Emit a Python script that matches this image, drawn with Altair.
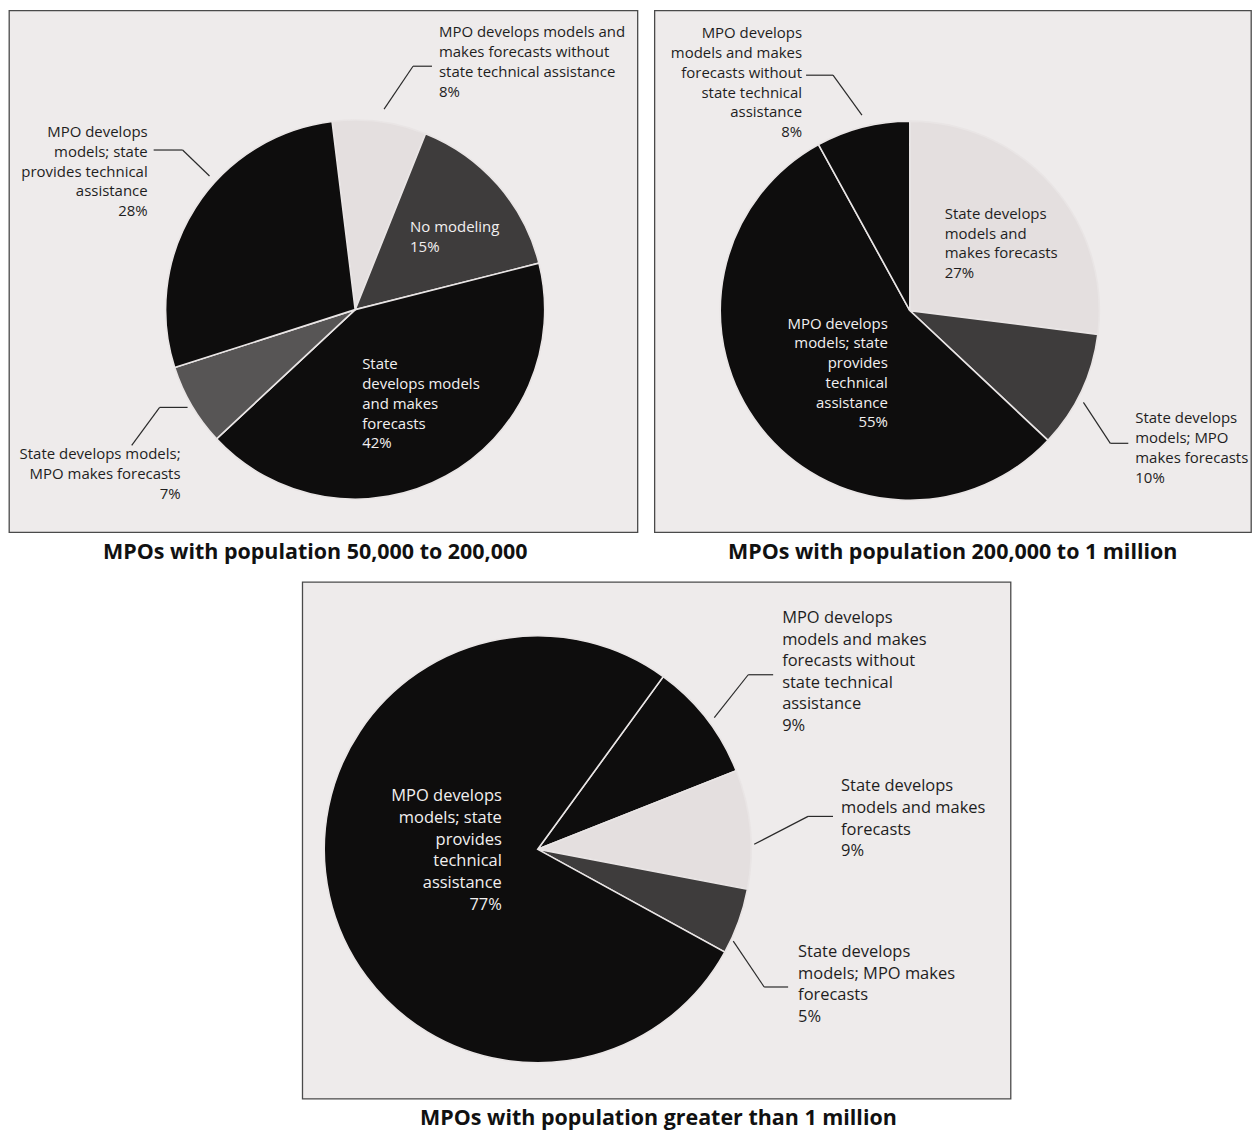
import altair as alt
import pandas as pd

# ---------------- data ----------------
p1_cats = [
    "MPO develops models and makes forecasts without state technical assistance",
    "No modeling",
    "State develops models and makes forecasts",
    "State develops models; MPO makes forecasts",
    "MPO develops models; state provides technical assistance",
]
p1_vals = [8, 15, 42, 7, 28]
p1_text = [
    "MPO develops models and\nmakes forecasts without\nstate technical assistance",
    "No modeling",
    "State\ndevelops models\nand makes\nforecasts",
    "State develops models;\nMPO makes forecasts",
    "MPO develops\nmodels; state\nprovides technical\nassistance",
]

p2_cats = [
    "State develops models and makes forecasts",
    "State develops models; MPO makes forecasts",
    "MPO develops models; state provides technical assistance",
    "MPO develops models and makes forecasts without state technical assistance",
]
p2_vals = [27, 10, 55, 8]
p2_text = [
    "State develops\nmodels and\nmakes forecasts",
    "State develops\nmodels; MPO\nmakes forecasts",
    "MPO develops\nmodels; state\nprovides\ntechnical\nassistance",
    "MPO develops\nmodels and makes\nforecasts without\nstate technical\nassistance",
]

p3_cats = [
    "MPO develops models and makes forecasts without state technical assistance",
    "State develops models and makes forecasts",
    "State develops models; MPO makes forecasts",
    "MPO develops models; state provides technical assistance",
]
p3_vals = [9, 9, 5, 77]
p3_text = [
    "MPO develops\nmodels and makes\nforecasts without\nstate technical\nassistance",
    "State develops\nmodels and makes\nforecasts",
    "State develops\nmodels; MPO makes\nforecasts",
    "MPO develops\nmodels; state\nprovides\ntechnical\nassistance",
]

titles = [
    "MPOs with population 50,000 to 200,000",
    "MPOs with population 200,000 to 1 million",
    "MPOs with population greater than 1 million",
]

# ---------------- styles ----------------
BLACK = "#0e0d0d"
LIGHT = "#e4dfdf"
DARK = "#3e3c3c"
MID = "#575555"
PANEL_BG = "#eeebeb"
LABEL_FONT = "Open Sans"
TITLE_FONT = "Open Sans"
DARK_TXT = "#1e1e1e"
WHITE_TXT = "#f2f0f0"

p1_colors = [LIGHT, DARK, BLACK, MID, BLACK]
p2_colors = [LIGHT, DARK, BLACK, BLACK]
p3_colors = [BLACK, LIGHT, DARK, BLACK]

TAU = 6.283185307179586


def pie_panel(cats, vals, texts, colors, start_deg, cx, cy, r, w, h,
              label_specs, leaders, title, fs, lh, toff, tdx):
    df = pd.DataFrame({"cat": cats, "value": vals, "idx": list(range(len(cats)))})
    a0 = start_deg / 360 * TAU
    arc = alt.Chart(df).mark_arc(radius=r, stroke="#e9e5e5", strokeWidth=1.6).encode(
        theta=alt.Theta("value:Q", stack=True, scale=alt.Scale(range=[a0, a0 + TAU])),
        color=alt.Color("cat:N", scale=alt.Scale(domain=cats, range=colors), legend=None),
        order=alt.Order("idx:Q"),
        x=alt.value(cx),
        y=alt.value(cy),
    )
    layers = [arc]
    for (i, lx, ly, align, col) in label_specs:
        ldf = pd.DataFrame({"label": [texts[i] + "\n" + f"{vals[i]}%"]})
        layers.append(
            alt.Chart(ldf).mark_text(
                align=align, baseline="top", lineBreak="\n", lineHeight=lh,
                font=LABEL_FONT, fontSize=fs, color=col,
            ).encode(text=alt.Text("label:N"), x=alt.value(lx), y=alt.value(ly))
        )
    one = pd.DataFrame({"k": [0]})
    for (x1, y1, x2, y2) in leaders:
        layers.append(
            alt.Chart(one).mark_rule(color="#2a2a2a", strokeWidth=1.2).encode(
                x=alt.value(x1), y=alt.value(y1), x2=alt.value(x2), y2=alt.value(y2)
            )
        )
    return alt.layer(*layers).properties(
        width=w, height=h,
        title=alt.TitleParams(
            title, orient="bottom", anchor="middle", fontSize=21.5, font=TITLE_FONT,
            fontWeight="bold", offset=toff, dx=tdx, color="#111111",
        ),
    )


p1 = pie_panel(
    p1_cats, p1_vals, p1_text, p1_colors, -7, 347, 300, 190, 630, 523,
    [
        (0, 431, 15, "left", DARK_TXT),
        (1, 402, 210, "left", WHITE_TXT),
        (2, 354, 348, "left", WHITE_TXT),
        (3, 172, 438, "right", DARK_TXT),
        (4, 139, 115, "right", DARK_TXT),
    ],
    [
        (376, 99, 405, 56), (405, 56, 424, 56),
        (145, 140, 174, 140), (174, 140, 201, 166),
        (123, 436, 151, 398), (151, 398, 179, 398),
    ],
    titles[0], 15, 19.8, 10, -8,
)

p2 = pie_panel(
    p2_cats, p2_vals, p2_text, p2_colors, 0, 256, 301, 190, 598, 523,
    [
        (0, 291, 197, "left", DARK_TXT),
        (1, 482, 402, "left", DARK_TXT),
        (2, 234, 307, "right", WHITE_TXT),
        (3, 148, 16, "right", DARK_TXT),
    ],
    [
        (152, 65, 179, 65), (179, 65, 208, 105),
        (430, 393, 457, 434), (457, 434, 475, 434),
    ],
    titles[1], 15, 19.8, 10, 0,
)

p3 = pie_panel(
    p3_cats, p3_vals, p3_text, p3_colors, 36, 236, 268, 214, 710, 518,
    [
        (0, 481, 28, "left", DARK_TXT),
        (1, 540, 197, "left", DARK_TXT),
        (2, 497, 363, "left", DARK_TXT),
        (3, 200, 207, "right", WHITE_TXT),
    ],
    [
        (413, 136, 447, 93), (447, 93, 472, 93),
        (453, 263, 507, 235), (507, 235, 532, 235),
        (432, 360, 463, 406), (463, 406, 487, 406),
    ],
    titles[2], 16.5, 21.7, 9, 2,
)

spacer = alt.Chart(pd.DataFrame({"k": [0]})).mark_text(text=" ", opacity=0).encode(
    x=alt.value(50), y=alt.value(50)
).properties(width=292, height=518,
             view=alt.ViewBackground(fill="transparent", stroke="transparent"))

row1 = alt.hconcat(p1, p2, spacing=15).resolve_scale(color="independent", theta="independent")
row2 = alt.hconcat(spacer, p3, spacing=0).resolve_scale(color="independent", theta="independent")

chart = alt.vconcat(row1, row2, spacing=16).resolve_scale(
    color="independent", theta="independent"
).properties(
    padding=0
).configure_view(
    fill=PANEL_BG, stroke="#4a4a4a", strokeWidth=1.3
)

chart.save("out.html", embed_options={"renderer": "svg", "actions": False})
